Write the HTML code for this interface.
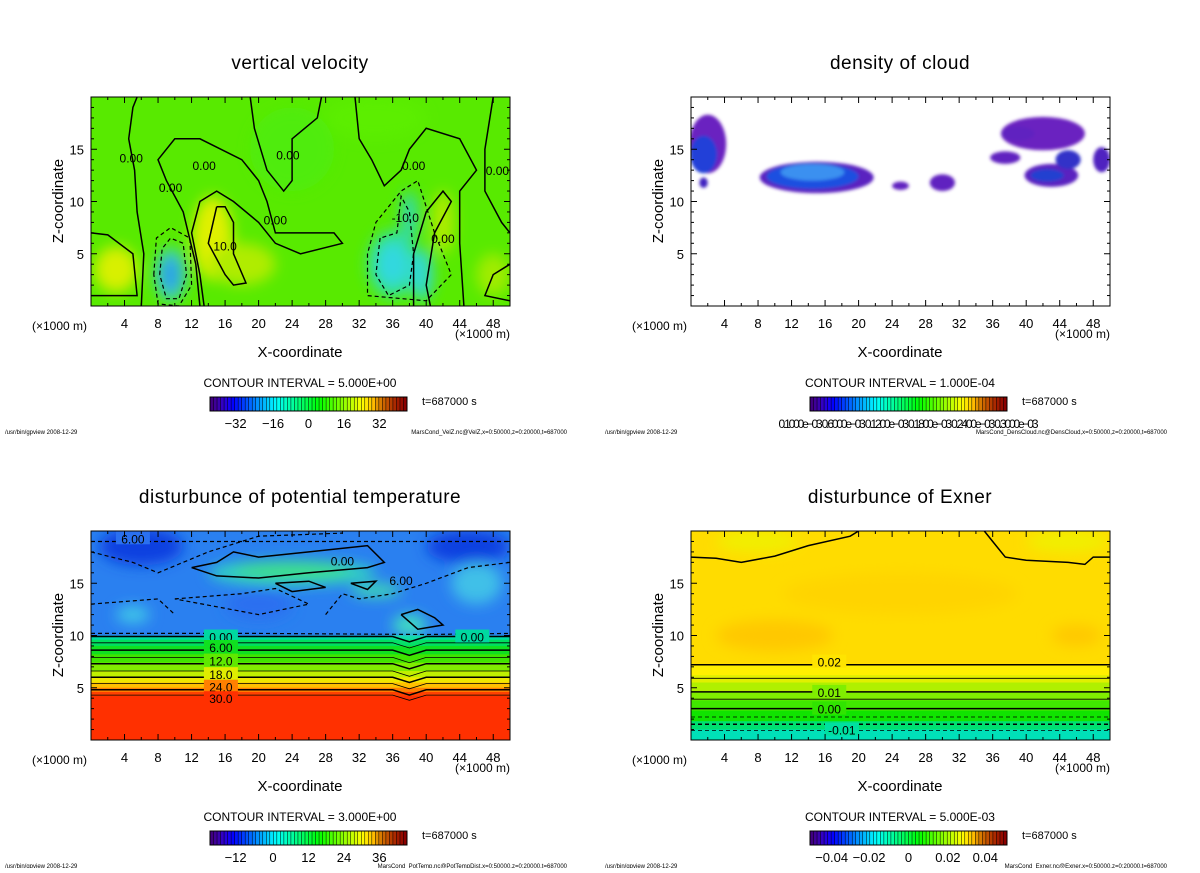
<!DOCTYPE html>
<html><head><meta charset="utf-8"><style>
body{margin:0;background:#fff;width:1200px;height:868px;overflow:hidden}
svg text{font-family:"Liberation Sans",sans-serif;fill:#000}
</style></head><body>
<svg id="s" width="1200" height="868" viewBox="0 0 1200 868" xmlns="http://www.w3.org/2000/svg">
<defs>
<filter id="bl" x="-50%" y="-50%" width="200%" height="200%"><feGaussianBlur stdDeviation="7"/></filter>
<filter id="bs" x="-50%" y="-50%" width="200%" height="200%"><feGaussianBlur stdDeviation="1.5"/></filter>
</defs>
</svg>
<script>
const xTicks=[4,8,12,16,20,24,28,32,36,40,44,48];
const zTicks=[5,10,15];
const titles=["vertical velocity","density of cloud","disturbunce of potential temperature","disturbunce of Exner"];
const intervals=["CONTOUR INTERVAL = 5.000E+00","CONTOUR INTERVAL = 1.000E-04","CONTOUR INTERVAL = 3.000E+00","CONTOUR INTERVAL = 5.000E-03"];
const cbLabels=[["-32","-16","0","16","32"],["0.1000e-03 0.6000e-03 0.1200e-03 0.1800e-03 0.2400e-03 0.3000e-03"],["-12","0","12","24","36"],["-0.04","-0.02","0","0.02","0.04"]];
const cbPos=[[0.13,0.32,0.5,0.68,0.86],[0.5],[0.13,0.32,0.5,0.68,0.86],[0.11,0.3,0.5,0.7,0.89]];
const files=["MarsCond_VelZ.nc@VelZ,x=0:50000,z=0:20000,t=687000","MarsCond_DensCloud.nc@DensCloud,x=0:50000,z=0:20000,t=687000","MarsCond_PotTemp.nc@PotTempDist,x=0:50000,z=0:20000,t=687000","MarsCond_Exner.nc@Exner,x=0:50000,z=0:20000,t=687000"];
const bases=["#58ea00","#ffffff","#2a80f0","#ffdc00"];
// blobs: [x, z, rx, rz, color]
const blobs0=[[3,3.5,2.6,2.2,"#d8f000"],[14.5,6.5,2.4,4,"#e0f000"],[18,4,4,2,"#b0ec00"],[9.5,3,1.9,2.6,"#40d8b0"],[9.5,3,1.2,1.8,"#2aa0e8"],[36,4,3,3.2,"#30e0a0"],[36,4,1.8,2,"#30d8e0"],[39.5,3,1.3,2.5,"#30d8d0"],[38,8.5,1,2.5,"#30d8b0"],[42,8,1.3,3,"#b0ec00"],[48,3,2,2,"#a0ec00"],[24,15,5,4,"#50ec10"],[34,18,6,2,"#5cee00"]];
const blobs1=[[2,15.5,2.2,2.8,"#6a22c0"],[1.5,14.5,1.6,1.8,"#2040d8"],[15,12.3,6.8,1.5,"#5a20c0"],[14.5,12.4,5.5,1.2,"#1e50e0"],[14.5,12.8,3.8,0.8,"#3a90f0"],[25,11.5,1,0.4,"#6020c0"],[30,11.8,1.5,0.8,"#6020c0"],[42,16.5,5,1.6,"#6a22c0"],[43,12.5,3.2,1.1,"#5a20c0"],[42.5,12.5,2,0.6,"#2040d0"],[37.5,14.2,1.8,0.6,"#6020c0"],[39,16.5,2,0.7,"#6020c0"],[49,14,1,1.2,"#5020c0"],[1.5,11.8,0.5,0.5,"#4020c0"],[45,14,1.5,0.9,"#3030c8"]];
const blobs2=[[6,18.5,5,1.8,"#1040e0"],[45,18.5,5,1.6,"#1040e0"],[24,16,10,1.2,"#30d8c0"],[24,16.2,7,0.7,"#40e080"],[34,14.3,3,0.6,"#40e0b0"],[38,11,2,1,"#40e0c0"],[5,12,2,0.8,"#40c8e8"],[20,13,4,1.5,"#2a70f0"],[46,15,3,2,"#40c0e8"]];
const blobs3=[[10,10,7,1.5,"#ffc800"],[46,10,3,1,"#ffc800"],[25,14,14,2,"#ffd400"],[8,19,5,1,"#f0f000"],[45,19,5,1,"#f0f000"]];
// horizontal bands: [zTop, color]
const bands2=[[10,"#00d8a0"],[9.6,"#00e060"],[9,"#10e020"],[8.2,"#40e400"],[7.4,"#80ec00"],[6.6,"#c0f000"],[6,"#f0e800"],[5.5,"#ffc000"],[5,"#ff8000"],[4.6,"#ff4000"],[4.2,"#ff3000"]];
const bands3=[[7.2,"#fff000"],[6.2,"#e0f000"],[5.5,"#b0f000"],[4.6,"#80ee00"],[3.8,"#40e800"],[2.8,"#10e400"],[1.8,"#00e070"],[1,"#00e0b8"]];
const levels2=[9.9,9.3,8.6,7.9,7.3,6.6,6,5.4,4.8,4.3];
const levLabels2=["0.00","6.00","12.0","18.0","24.0","30.0"];
const levels3=[7.2,5.9,4.6,3.9,3,2.2,1.5,0.9];
const lev3Dash=[0,0,0,0,0,1,1,1];
// contour paths [x,z] pairs
const cont0=[
 [[6,0],[6.3,5],[5.5,9],[5.2,13],[4.5,16],[5,19],[5.5,20]],
 [[13,0],[12.5,4],[11,9],[9,12],[8,14],[10,16],[13,16],[18,14],[20,12],[21,10],[22,7],[26,7],[29,7],[30,6],[25,5],[22,6],[20,8],[17,10],[15,11],[13,10],[12,7],[13,3],[13.5,0]],
 [[19,20],[19.5,17],[21,13],[23,11],[24,12],[24,16],[27,18],[27.5,20]],
 [[31.5,20],[32,16],[33.5,14],[35,11.5],[37,13],[38,15],[40,17],[44,16],[46,13],[44,11],[44,6],[44.5,0]],
 [[0,7],[2,6.8],[5,5],[5.5,1],[0,1]],
 [[15,9.5],[14,6],[16,3],[17,2],[18.5,2.2],[17,5],[17,8],[16,9.5],[15,9.5]],
 [[38.5,0],[38.5,5],[40,9],[42,11],[43,10],[41,7],[40,2],[40.5,0]],
 [[48,20],[47,15],[47,11],[49,8],[50,7]],
 [[50,4],[48,3],[47,1],[50,0.5]]];
const dash0=[
 [[8.2,3],[8.5,5.5],[9.5,6.5],[11,6],[11.4,3],[10.5,0.7],[9,0.7],[8.2,3]],
 [[7.5,3],[7.8,6.5],[9.5,7.5],[11.8,6.5],[12,2],[10.5,0],[8,0.2],[7.5,3]],
 [[34.5,6.5],[34,3],[35.5,1],[38,2],[38.5,5],[38,9],[37,10.5],[36.5,7],[34.5,6.5]],
 [[33,5],[33,1],[40,0.5],[43,3],[41,7],[39,12],[37,11],[34,8],[33,5]]];
const cont2=[
 [[12,16.5],[15,17],[17,18],[20,17.5],[26,18],[33,18.6],[35,17],[33,16.5],[26,16],[20,15.5],[15,15.7],[12,16.5]],
 [[22,15],[26,15.2],[28,14.6],[24,14.2],[22,15]],
 [[31,15],[34,15.2],[33,14.4],[31,15]],
 [[37,12],[39,12.5],[41,11.7],[42,11],[39,10.6],[37,12]]];
const dash2=[
 [[0,18],[5,17],[8,16],[14,18],[20,19.5],[30,19.8]],
 [[10,13.5],[18,14],[22,14.5],[26,13],[20,12],[10,13.5]],
 [[0,13],[8,13.5],[10,12]],
 [[28,12],[30,14],[32,13.5],[36,14],[40,15],[45,16.5],[50,17]],
 [[0,10.2],[20,10.2],[40,10.1],[50,10.2]],
 [[0,19],[50,19]]];
const cont3=[[[0,17.5],[3,17.4],[6,17],[10,17.6],[14,18.6],[19,19.5],[20,20]],[[35,20],[36,19],[37.5,17.5],[40,17.2],[45,17],[47,16.8],[48,17.5],[50,17.5]]];

const S=document.getElementById('s');
const NS="http://www.w3.org/2000/svg";
function mk(tag,at,parent){const e=document.createElementNS(NS,tag);for(const k in at)e.setAttribute(k,at[k]);(parent||S).appendChild(e);return e;}
function txt(s,at,parent){const e=mk('text',at,parent);e.textContent=s;return e;}

function panel(i,ox,oy,base,blobs,blur,bands,levels,lvlDash,conts,dashes,lblSpec){
 const x0=91+ox,x1=510+ox,y0=97+oy,y1=306+oy;
 const sx=x=>x0+x/50*(x1-x0), sz=z=>y1-z/20*(y1-y0);
 const g=mk('g',{});
 
 
 const cp=mk('clipPath',{id:'cp'+i},g);mk('rect',{x:x0,y:y0,width:x1-x0,height:y1-y0},cp);
 const plot=mk('g',{'clip-path':'url(#cp'+i+')'},g);
 
 
 mk('rect',{x:x0,y:y0,width:x1-x0,height:y1-y0,fill:base},plot);
 if(bands){bands.forEach(b=>{const r=mk('rect',{x:x0-10,y:sz(b[0]),width:x1-x0+20,height:y1-sz(b[0])+5,fill:b[1]},plot);});}
 const bg=mk('g',{filter:'url(#'+blur+')'},plot);
 blobs.forEach(b=>{const e=mk('ellipse',{cx:sx(b[0]),cy:sz(b[1]),rx:b[2]/50*(x1-x0),ry:b[3]/20*(y1-y0),fill:b[4]},bg);});
 const P=pts=>pts.map((p,j)=>(j?'L':'M')+sx(p[0]).toFixed(1)+','+sz(p[1]).toFixed(1)).join('');
 (conts||[]).forEach(c=>{const e=mk('path',{d:P(c),fill:'none',stroke:'#000','stroke-width':1.5},plot);});
 (dashes||[]).forEach(c=>{const e=mk('path',{d:P(c),fill:'none',stroke:'#000','stroke-width':1.2,'stroke-dasharray':'4,3'},plot);});
 (levels||[]).forEach((z,j)=>{const pts=[];for(let x=0;x<=50;x+=2){let dz=0;if(i==2&&x>=36&&x<=40)dz=-0.5*(1-Math.abs(x-38)/2);pts.push([x,z+dz]);}
  const e=mk('path',{d:P(pts),fill:'none',stroke:'#000','stroke-width':j%2?0.8:1.5,'stroke-dasharray':(lvlDash&&lvlDash[j])?'4,3':'none'},plot);});
 (lblSpec||[]).forEach(l=>{mk('rect',{x:sx(l[1])-17,y:sz(l[2])-7,width:34,height:13,fill:l[3]||'none'},plot);const t=txt(l[0],{x:sx(l[1]),y:sz(l[2])+5,'font-size':12,'text-anchor':'middle'},plot);});
 const fr=mk('rect',{x:x0,y:y0,width:x1-x0,height:y1-y0,fill:'none',stroke:'#000','stroke-width':1},g);
 
 for(let x=2;x<50;x+=2){const L=x%4==0?6:3;mk('line',{x1:sx(x),x2:sx(x),y1:y1,y2:y1-L,stroke:'#000'},g);mk('line',{x1:sx(x),x2:sx(x),y1:y0,y2:y0+L,stroke:'#000'},g);}
 for(let z=1;z<20;z++){const L=z%5==0?6:3;mk('line',{x1:x0,x2:x0+L,y1:sz(z),y2:sz(z),stroke:'#000'},g);mk('line',{x1:x1,x2:x1-L,y1:sz(z),y2:sz(z),stroke:'#000'},g);}
 xTicks.forEach(v=>{const t=txt(String(v),{x:sx(v),y:y1+22,'font-size':13,'text-anchor':'middle'},g);});
 zTicks.forEach(v=>{const t=txt(String(v),{x:x0-7,y:sz(v)+5,'font-size':13,'text-anchor':'end'},g);});
 let t;
 t=txt(titles[i],{x:300+ox,y:69+oy,'font-size':19,'text-anchor':'middle','letter-spacing':'0.5'},g);
 t=txt('Z-coordinate',{x:0,y:0,'font-size':15,'text-anchor':'middle',transform:`translate(${63+ox},${201+oy}) rotate(-90)`},g);
 t=txt('X-coordinate',{x:300+ox,y:357+oy,'font-size':15,'text-anchor':'middle'},g);
 t=txt('(×1000 m)',{x:32+ox,y:330+oy,'font-size':12},g);
 t=txt('(×1000 m)',{x:455+ox,y:338+oy,'font-size':12},g);
 t=txt(intervals[i],{x:300+ox,y:387+oy,'font-size':12,'text-anchor':'middle'},g);
 t=txt('t=687000 s',{x:422+ox,y:405+oy,'font-size':11,fill:'#444'},g);
 t=txt('/usr/bin/gpview  2008-12-29',{x:5+ox,y:434+oy,'font-size':6},g);
 t=txt(files[i],{x:567+ox,y:434+oy,'font-size':6,'text-anchor':'end'},g);
 const cb=mk('g',{},g);
 const cx0=210+ox,cw=197,cy=397+oy,n=56;
 for(let k=0;k<n;k++){const f=k/(n-1);let h=270-f*270;let l=f>0.85?45-(f-0.85)*120:50;if(f<0.1)l=25+f*250;mk('rect',{x:cx0+k*cw/n,y:cy,width:cw/n+0.3,height:14,fill:`hsl(${h},100%,${l}%)`},cb);mk('line',{x1:cx0+k*cw/n,x2:cx0+k*cw/n,y1:cy,y2:cy+14,stroke:'#000','stroke-width':0.5},cb);}
 mk('rect',{x:cx0,y:cy,width:cw,height:14,fill:'none',stroke:'#000'},cb);
 cbLabels[i].forEach((s,j)=>{const tt=txt(s.replace(/-/g,'−'),{x:cx0+cbPos[i][j]*cw,y:cy+31,'font-size':i==1?12:13,'text-anchor':'middle'},cb);if(i==1)tt.setAttribute('textLength','260');});
}
panel(0,0,0,bases[0],blobs0,'bl',null,null,null,cont0,dash0,[["0.00",4.8,14.2],["0.00",9.5,11.4],["0.00",13.5,13.5],["10.0",16,5.8],["0.00",22,8.3],["0.00",23.5,14.5],["0.00",38.5,13.5],["-10.0",37.5,8.5],["0.00",42,6.5],["0.00",48.5,13]]);
panel(1,600,0,bases[1],blobs1,'bs',null,null,null,null,null,null);
panel(2,0,434,bases[2],blobs2,'bl',bands2,levels2,null,cont2,dash2,[["6.00",5,19.3,"#2a70f0"],["0.00",30,17.2],["6.00",37,15.3],["0.00",15.5,9.9,"#00d8a0"],["0.00",45.5,9.9,"#00d8a0"],["6.00",15.5,8.9,"#10e020"],["12.0",15.5,7.6,"#60e800"],["18.0",15.5,6.3,"#e0ec00"],["24.0",15.5,5.1,"#ff8000"],["30.0",15.5,4.0,"#ff3000"]]);
panel(3,600,434,bases[3],blobs3,'bl',bands3,levels3,lev3Dash,cont3,null,[["0.02",16.5,7.5,"#ffe400"],["0.01",16.5,4.6,"#80ee00"],["0.00",16.5,3.0,"#30e400"],["-0.01",18,1.0,"#00e0a0"]]);
</script>
</body></html>
